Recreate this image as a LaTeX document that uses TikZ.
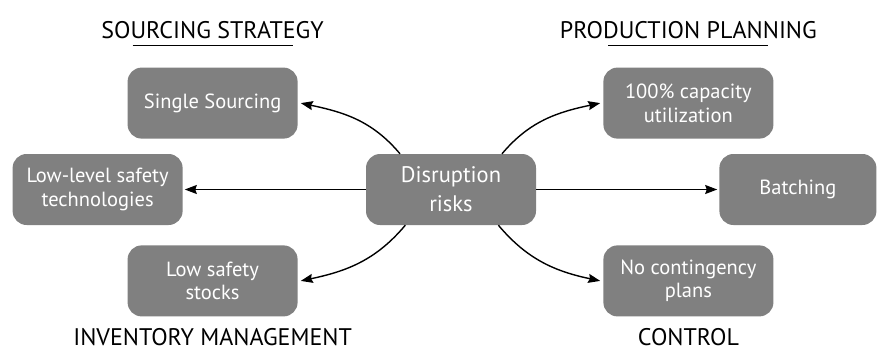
\documentclass[tikz,border=0pt]{standalone}
\usepackage{fontspec}
\setmainfont{PT Sans}
\usetikzlibrary{arrows.meta, positioning}

\begin{document}
\begin{tikzpicture}[
    x=1pt, y=1pt,
    block/.style={rectangle, fill=black!50, text=white, align=center, minimum width=170pt, minimum height=71pt, rounded corners=14pt, inner sep=0pt, font=\fontsize{20.5}{23.5}\selectfont},
    heading/.style={font=\fontsize{24}{28}\selectfont, inner sep=0pt},
    arrow/.style={-{Stealth[length=12pt, width=9pt, inset=1.5pt]}, line width=1.4pt}
]
\useasboundingbox (0,0) rectangle (877,-351);

% Nodes
\node (risks) [block, font=\fontsize{22.5}{29}\selectfont] at (451,-189.5) {Disruption\\risks};
\node (single) [block, above left=15pt and 68pt of risks] {Single Sourcing};
\node (lowtech) [block, left=183pt of risks] {Low-level safety\\technologies};
\node (stocks) [block, below left=20pt and 68pt of risks] {Low safety\\stocks};
\node (capacity) [block, above right=15pt and 67pt of risks] {100\% capacity\\utilization};
\node (batching) [block, right=183pt of risks, minimum width=157pt] {Batching};
\node (plans) [block, below right=20pt and 67pt of risks] {No contingency\\plans};

% Headings
\node (sourcing) [heading, above=28pt of single] {SOURCING STRATEGY};
\node (production) [heading, above=28pt of capacity] {PRODUCTION PLANNING};
\node (inventory) [heading, below=12pt of stocks] {INVENTORY MANAGEMENT};
\node (control) [heading, below=12pt of plans] {CONTROL};
\draw [line width=1.4pt] ([xshift=-80pt, yshift=-6pt]sourcing.south) -- ([xshift=80pt, yshift=-6pt]sourcing.south);
\draw [line width=1.4pt] ([xshift=-80pt, yshift=-6pt]production.south) -- ([xshift=80pt, yshift=-6pt]production.south);

% Paths
\draw [arrow] (risks.145) to[out=130, in=-12] ([xshift=3pt]single.east);
\draw [arrow] (risks.west) -- ([xshift=2pt]lowtech.east);
\draw [arrow] (risks.218) to[out=-130, in=12] ([xshift=3pt]stocks.east);
\draw [arrow] (risks.35) to[out=50, in=192] ([xshift=-3pt]capacity.west);
\draw [arrow] (risks.east) -- ([xshift=-2pt]batching.west);
\draw [arrow] (risks.-37) to[out=-50, in=168] ([xshift=-3pt]plans.west);

\end{tikzpicture}
\end{document}
